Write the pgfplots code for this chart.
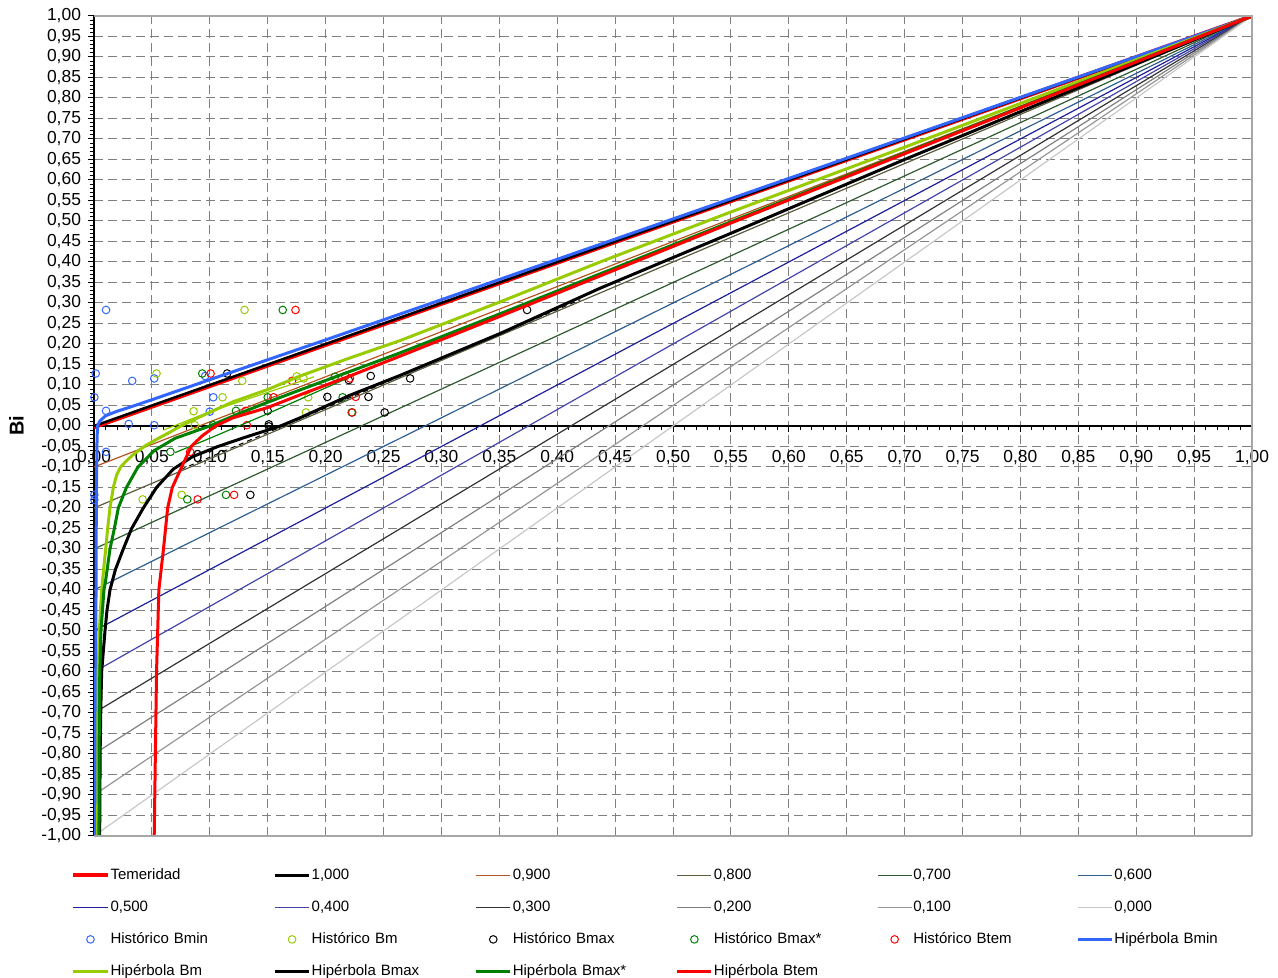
\documentclass[border=0pt]{standalone}
\usepackage{fontspec}
\setmainfont{Liberation Sans}
\usepackage{pgfplots}
\pgfplotsset{compat=1.18}
\definecolor{cBlue}{HTML}{3366FF}
\definecolor{cLime}{HTML}{99CC00}
\definecolor{cGreen}{HTML}{008000}
\definecolor{cRed}{HTML}{FF0000}
\definecolor{c09}{HTML}{B4541E}
\definecolor{c08}{HTML}{5C5C3D}
\definecolor{c07}{HTML}{2F5A2F}
\definecolor{c06}{HTML}{2F5F8F}
\definecolor{c05}{HTML}{1F1F99}
\definecolor{c04}{HTML}{4444AA}
\definecolor{c03}{HTML}{333333}
\definecolor{c02}{HTML}{808080}
\definecolor{c01}{HTML}{969696}
\definecolor{c00}{HTML}{C8C8C8}
\definecolor{gridc}{HTML}{808080}
\begin{document}
\begin{tikzpicture}
\begin{axis}[
  scale only axis, width=579pt, height=410pt,
  xmin=0, xmax=1, ymin=-1, ymax=1,
  axis x line*=middle, axis y line*=left,
  axis line style={-, black, line width=0.6pt},
  hide obscured x ticks=false, hide obscured y ticks=false,
  xtick={0,0.05,0.10,0.15,0.20,0.25,0.30,0.35,0.40,0.45,0.50,0.55,0.60,0.65,0.70,0.75,0.80,0.85,0.90,0.95,1},
  ytick={-1,-0.95,-0.90,-0.85,-0.80,-0.75,-0.70,-0.65,-0.60,-0.55,-0.50,-0.45,-0.40,-0.35,-0.30,-0.25,-0.20,-0.15,-0.10,-0.05,0,0.05,0.10,0.15,0.20,0.25,0.30,0.35,0.40,0.45,0.50,0.55,0.60,0.65,0.70,0.75,0.80,0.85,0.90,0.95,1},
  minor x tick num=4, minor y tick num=4,
  tick align=outside,
  major tick length=3pt, minor tick length=2pt,
  every tick/.style={black, line width=0.5pt},
  grid=major,
  major grid style={gridc, line width=0.5pt, dash pattern=on 4.5pt off 2.5pt},
  /pgf/number format/fixed,
  /pgf/number format/fixed zerofill,
  /pgf/number format/precision=2,
  /pgf/number format/use comma,
  /pgf/number format/assume math mode=true,
  ticklabel style={font=\fontsize{8.7}{10}\selectfont},
  xticklabel style={yshift=-5.5pt},
  ylabel={Bi},
  ylabel style={font=\fontsize{10}{12}\selectfont\bfseries, yshift=2pt},
  clip mode=individual,
  legend columns=6,
  legend style={at={(0,0)}, anchor=north west, xshift=-11.5pt, yshift=-11.5pt,
    draw=none, fill=none, inner sep=0pt, row sep=0pt,
    font=\fontsize{7.5}{9}\selectfont,
    nodes={text width=81pt, align=left, inner xsep=0.5pt, inner ysep=0pt, minimum height=16pt},
    /tikz/every odd column/.style={column sep=0pt},
    /tikz/every even column/.style={column sep=0pt}},
  legend cell align=left,
]
\coordinate (BL) at (rel axis cs:0,0);
\coordinate (TR) at (rel axis cs:1,1);
% reference lines
\addplot[cRed, line width=2pt] coordinates {(0,-0.003) (1,1)};
\addlegendentry{Temeridad}
\addplot[black, line width=1.2pt] coordinates {(0,0) (1,1)};
\addlegendentry{1,000}
\addplot[c09, line width=0.6pt] coordinates {(0,-0.1) (1,1)};
\addlegendentry{0,900}
\addplot[c08, line width=0.6pt] coordinates {(0,-0.2) (1,1)};
\addlegendentry{0,800}
\addplot[c07, line width=0.6pt] coordinates {(0,-0.3) (1,1)};
\addlegendentry{0,700}
\addplot[c06, line width=0.6pt] coordinates {(0,-0.4) (1,1)};
\addlegendentry{0,600}
\addplot[c05, line width=0.6pt] coordinates {(0,-0.5) (1,1)};
\addlegendentry{0,500}
\addplot[c04, line width=0.6pt] coordinates {(0,-0.6) (1,1)};
\addlegendentry{0,400}
\addplot[c03, line width=0.6pt] coordinates {(0,-0.7) (1,1)};
\addlegendentry{0,300}
\addplot[c02, line width=0.6pt] coordinates {(0,-0.8) (1,1)};
\addlegendentry{0,200}
\addplot[c01, line width=0.6pt] coordinates {(0,-0.9) (1,1)};
\addlegendentry{0,100}
\addplot[c00, line width=0.6pt] coordinates {(0,-1) (1,1)};
\addlegendentry{0,000}
% historic points
\addplot[only marks, mark=o, mark size=1.9pt, cBlue, mark options={line width=0.5pt}] coordinates {
(0.0104,0.283) (0.0015,0.128) (0.0003,0.07) (0.0104,0.037) (0.03,0.005) (0.033,0.11)
(0.052,0.116) (0.052,0.002) (0.096,0.122) (0.103,0.07) (0.1,0.035) (0.0003,-0.168)
(0.0003,-0.18) (0.0104,-0.063)};
\addlegendentry{Histórico Bmin}
\addplot[only marks, mark=o, mark size=1.9pt, cLime, mark options={line width=0.5pt}] coordinates {
(0.130,0.283) (0.054,0.128) (0.128,0.11) (0.175,0.121) (0.181,0.116) (0.111,0.07)
(0.086,0.036) (0.087,0.002) (0.185,0.07) (0.183,0.033) (0.0757,-0.168) (0.042,-0.179)};
\addlegendentry{Histórico Bm}
\addplot[only marks, mark=o, mark size=1.9pt, black, mark options={line width=0.5pt}] coordinates {
(0.374,0.283) (0.115,0.128) (0.15,0.037) (0.151,0.004) (0.151,-0.001) (0.2015,0.071)
(0.22,0.112) (0.239,0.122) (0.237,0.071) (0.251,0.033) (0.273,0.116) (0.135,-0.168)};
\addlegendentry{Histórico Bmax}
\addplot[only marks, mark=o, mark size=1.9pt, cGreen, mark options={line width=0.5pt}] coordinates {
(0.163,0.283) (0.0935,0.128) (0.1226,0.037) (0.103,0.002) (0.15,0.07) (0.208,0.12)
(0.2147,0.07) (0.2225,0.033) (0.0806,-0.179) (0.114,-0.168) (0.066,-0.063)};
\addlegendentry{Histórico Bmax*}
\addplot[only marks, mark=o, mark size=1.9pt, cRed, mark options={line width=0.5pt}] coordinates {
(0.174,0.283) (0.1007,0.128) (0.131,0.037) (0.132,0.002) (0.155,0.07) (0.171,0.11)
(0.217,0.122) (0.221,0.116) (0.226,0.071) (0.223,0.033) (0.0895,-0.179) (0.121,-0.168) (0.083,-0.063)};
\addlegendentry{Histórico Btem}
% extra thin lines
\addplot[black, line width=0.5pt, dash pattern=on 2.5pt off 2pt, forget plot] coordinates {(0.075,-0.106) (0.42,0.308)};
\addplot[cLime, line width=0.6pt, forget plot] coordinates {(0.06,-0.01) (0.1,0.035) (0.15,0.082) (0.19,0.12)};
\addplot[cGreen, line width=0.6pt, forget plot] coordinates {(0.07,-0.065) (0.1,-0.03) (0.15,0.03) (0.22,0.118)};
% hyperbolas
\addplot[cBlue, line width=1.5pt] coordinates {
(0.0015,-1) (0.0015,-0.6) (0.002,-0.2) (0.0025,-0.05) (0.003,0) (0.005,0.012) (0.01,0.025)
(0.02,0.036) (0.03,0.045) (0.05,0.064) (0.1,0.113) (0.2,0.21) (0.3,0.308) (0.5,0.505) (0.75,0.752) (1,1)};
\addlegendentry{Hipérbola Bmin}
\addplot[cLime, line width=1.5pt] coordinates {
(0.0032,-1) (0.0033,-0.8) (0.0036,-0.6) (0.0046,-0.5) (0.0066,-0.4) (0.0083,-0.35) (0.0101,-0.3)
(0.0118,-0.25) (0.0138,-0.2) (0.0167,-0.15) (0.0195,-0.12) (0.023,-0.1) (0.028,-0.085)
(0.035,-0.067) (0.045,-0.047) (0.055,-0.031) (0.065,-0.016) (0.075,0.0) (0.092,0.023) (0.12,0.059)
(0.15,0.089) (0.178,0.122) (0.221,0.166) (0.264,0.208) (0.351,0.303) (0.437,0.4) (0.55,0.522)
(0.7,0.68) (0.85,0.84) (1,1)};
\addlegendentry{Hipérbola Bm}
\addplot[black, line width=1.5pt] coordinates {
(0.0049,-1) (0.0051,-0.9) (0.0053,-0.8) (0.0058,-0.7) (0.0066,-0.6) (0.0095,-0.5) (0.0112,-0.45)
(0.0138,-0.4) (0.0185,-0.35) (0.0253,-0.3) (0.0325,-0.25) (0.0426,-0.2)
(0.054,-0.15) (0.0685,-0.105) (0.085,-0.075) (0.107,-0.05) (0.13,-0.028) (0.161,0.0) (0.178,0.02)
(0.221,0.075) (0.264,0.123) (0.351,0.226) (0.437,0.336) (0.55,0.47) (0.7,0.65) (0.85,0.825) (1,1)};
\addlegendentry{Hipérbola Bmax}
\addplot[cGreen, line width=1.5pt] coordinates {
(0.0043,-1) (0.0044,-0.8) (0.005,-0.6) (0.006,-0.5) (0.0086,-0.4) (0.0101,-0.376) (0.0138,-0.3)
(0.0176,-0.25) (0.021,-0.2) (0.028,-0.15) (0.038,-0.1) (0.052,-0.06) (0.07,-0.03) (0.1,0.0)
(0.125,0.03) (0.15,0.058) (0.178,0.088) (0.221,0.133) (0.264,0.178) (0.351,0.274) (0.437,0.371)
(0.55,0.498) (0.7,0.666) (0.85,0.833) (1,1)};
\addlegendentry{Hipérbola Bmax*}
\addplot[cRed, line width=1.5pt] coordinates {
(0.052,-1) (0.053,-0.8) (0.054,-0.6) (0.056,-0.4) (0.06,-0.3) (0.0636,-0.2) (0.0676,-0.15)
(0.0757,-0.1) (0.084,-0.05) (0.093,-0.025) (0.105,0.0) (0.12,0.02) (0.15,0.045) (0.178,0.076)
(0.221,0.122) (0.264,0.17) (0.351,0.268) (0.437,0.366) (0.55,0.495) (0.7,0.664) (0.85,0.832) (1,1)};
\addlegendentry{Hipérbola Btem}
\end{axis}
\draw[gray!70, line width=0.6pt] (BL -| TR) -- (TR) -- (BL |- TR);
\draw[gray!70, line width=0.6pt] (BL) -- (BL -| TR);
\pgfresetboundingbox
\path[use as bounding box] ([shift={(-47pt,-71pt)}]BL) rectangle ([shift={(13pt,8pt)}]TR);
\end{tikzpicture}
\end{document}
